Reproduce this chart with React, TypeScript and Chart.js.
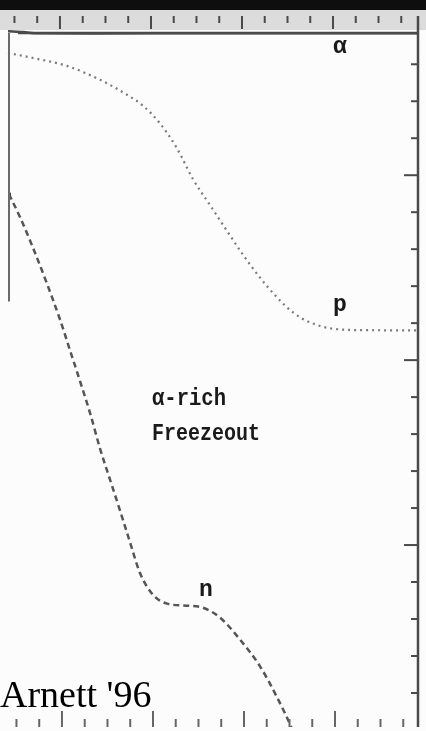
import React, { useEffect, useRef } from "react";
import { Chart, registerables } from "chart.js";

Chart.register(...registerables);

// Axis ranges (arbitrary units: x major ticks 1..4, y major ticks 0, -1, -2)
const xRange = [0.429, 4.934];
const yRange = [-2.984, 0.769];

const xMajorTicks = [1, 2, 3, 4];
const xMinorTicks = [0.5, 0.75, 1.25, 1.5, 1.75, 2.25, 2.5, 2.75, 3.25, 3.5, 3.75, 4.25, 4.5, 4.75];
const yMajorTicks = [0, -1, -2];
const yMinorTicks = [0.6, 0.4, 0.2, -0.2, -0.4, -0.6, -0.8, -1.2, -1.4, -1.6, -1.8, -2.2, -2.4, -2.6, -2.8];

// alpha curve (solid, at the very top)
const alphaX = [0.429, 0.6, 0.75, 2.0, 3.5, 4.934];
const alphaY = [0.778, 0.774, 0.767, 0.767, 0.767, 0.767];

// proton curve (dotted)
const pX = [0.429, 0.703, 1.077, 1.44, 1.736, 1.912, 2.099, 2.286, 2.462, 2.648, 2.835, 3.011, 3.198, 3.385, 3.56, 3.747, 4.0, 4.374, 4.934];
const pY = [0.661, 0.634, 0.591, 0.516, 0.435, 0.376, 0.28, 0.145, -0.022, -0.161, -0.301, -0.43, -0.554, -0.661, -0.742, -0.796, -0.83, -0.838, -0.839];

// neutron curve (dashed)
const nX = [0.44, 0.56, 0.703, 0.857, 1.0, 1.11, 1.22, 1.33, 1.44, 1.549, 1.659, 1.769, 1.879, 2.022, 2.176, 2.396, 2.571, 2.758, 2.978, 3.198, 3.385, 3.527, 3.582];
const nY = [-0.102, -0.226, -0.392, -0.586, -0.78, -0.946, -1.113, -1.285, -1.478, -1.645, -1.812, -1.984, -2.151, -2.269, -2.317, -2.328, -2.339, -2.392, -2.511, -2.656, -2.823, -2.968, -3.03];

// partial left edge line
const edgeX = [0.44, 0.44];
const edgeY = [0.769, -0.683];

// text labels
const labelTexts = ["α", "p", "n", "α-rich", "Freezeout"];
const labelX = [4.0, 4.0, 2.527, 2.011, 2.011];
const labelY = [0.661, -0.737, -2.274, -1.242, -1.43];
const creditText = "Arnett '96";
const creditX = 0.341;
const creditY = -2.876;

const zip = (xs: number[], ys: number[]) => xs.map((x, i) => ({ x, y: ys[i] }));

const framePlugin = {
  id: "frame",
  beforeDraw(chart: any) {
    const { ctx, width, height } = chart;
    ctx.save();
    ctx.fillStyle = "#fcfcfc";
    ctx.fillRect(0, 0, width, height);
    ctx.fillStyle = "#0e0e0e";
    ctx.fillRect(0, 0, width, 10);
    ctx.fillStyle = "#dcdcdc";
    ctx.fillRect(0, 10, width, 20);
    ctx.restore();
  },
  afterDatasetsDraw(chart: any) {
    const { ctx } = chart;
    const xs = chart.scales.x;
    const ys = chart.scales.y;
    const { left, right, top, bottom } = chart.chartArea;
    const line = (x1: number, y1: number, x2: number, y2: number) => {
      ctx.beginPath();
      ctx.moveTo(x1, y1);
      ctx.lineTo(x2, y2);
      ctx.stroke();
    };
    ctx.save();
    ctx.strokeStyle = "#4a4a4a";
    ctx.lineWidth = 2.5;
    line(left + 10, top, right, top);
    line(right, 16, right, bottom);
    ctx.lineWidth = 2;
    // top strip ticks
    xMajorTicks.forEach((v) => { const px = xs.getPixelForValue(v); line(px, 16, px, 29); });
    xMinorTicks.forEach((v) => { const px = xs.getPixelForValue(v); line(px, 16, px, 23); });
    // bottom ticks
    ctx.strokeStyle = "#666";
    xMajorTicks.forEach((v) => { const px = xs.getPixelForValue(v) + 2; line(px, bottom - 16, px, bottom); });
    xMinorTicks.forEach((v) => { const px = xs.getPixelForValue(v) + 2; line(px, bottom - 8, px, bottom); });
    // right ticks
    ctx.strokeStyle = "#4a4a4a";
    yMajorTicks.forEach((v) => { const py = ys.getPixelForValue(v); line(right - 14, py, right, py); });
    yMinorTicks.forEach((v) => { const py = ys.getPixelForValue(v); line(right - 7, py, right, py); });

    // labels
    ctx.fillStyle = "#1a1a1a";
    ctx.textBaseline = "alphabetic";
    ctx.textAlign = "left";
    ctx.font = "bold 23px 'Liberation Mono', monospace";
    const widths = [16, 14, 14, 74, 108];
    labelTexts.forEach((t, i) => {
      ctx.fillText(t, xs.getPixelForValue(labelX[i]), ys.getPixelForValue(labelY[i]), widths[i]);
    });
    ctx.fillStyle = "#000";
    ctx.font = "38px 'Liberation Serif', 'Times New Roman', serif";
    ctx.fillText(creditText, xs.getPixelForValue(creditX), ys.getPixelForValue(creditY));
    ctx.restore();
  },
};

export default function App() {
  const ref = useRef<HTMLCanvasElement | null>(null);
  useEffect(() => {
    if (!ref.current) return;
    const chart = new Chart(ref.current, {
      type: "scatter",
      data: {
        datasets: [
          {
            label: "edge",
            data: zip(edgeX, edgeY),
            showLine: true,
            borderColor: "#6a6a6a",
            borderWidth: 2,
            pointRadius: 0,
            clip: 6,
          } as any,
          {
            label: "α",
            data: zip(alphaX, alphaY),
            showLine: true,
            borderColor: "#4a4a4a",
            borderWidth: 2.5,
            pointRadius: 0,
            tension: 0.3,
            clip: 6,
          } as any,
          {
            label: "p",
            data: zip(pX, pY),
            showLine: true,
            borderColor: "#7a7a7a",
            borderWidth: 2.2,
            borderDash: [2, 4],
            pointRadius: 0,
            cubicInterpolationMode: "monotone",
            clip: 6,
          } as any,
          {
            label: "n",
            data: zip(nX, nY),
            showLine: true,
            borderColor: "#555",
            borderWidth: 2.5,
            borderDash: [6, 4],
            pointRadius: nX.map((_, i) => (i === 0 ? 2 : 0)),
            pointBackgroundColor: "#333",
            pointBorderWidth: 0,
            cubicInterpolationMode: "monotone",
          } as any,
        ],
      },
      options: {
        animation: false,
        responsive: false,
        devicePixelRatio: 1,
        layout: { padding: { left: 8, right: 8, top: 33, bottom: 0 } },
        scales: {
          x: { type: "linear", min: xRange[0], max: xRange[1], display: false },
          y: { type: "linear", min: yRange[0], max: yRange[1], display: false },
        },
        plugins: { legend: { display: false }, tooltip: { enabled: false } },
      },
      plugins: [framePlugin],
    });
    return () => chart.destroy();
  }, []);
  return (
    <div style={{ position: "fixed", left: 0, top: 0, width: 426, height: 731 }}>
      <canvas ref={ref} width={426} height={731} style={{ display: "block" }} />
    </div>
  );
}
